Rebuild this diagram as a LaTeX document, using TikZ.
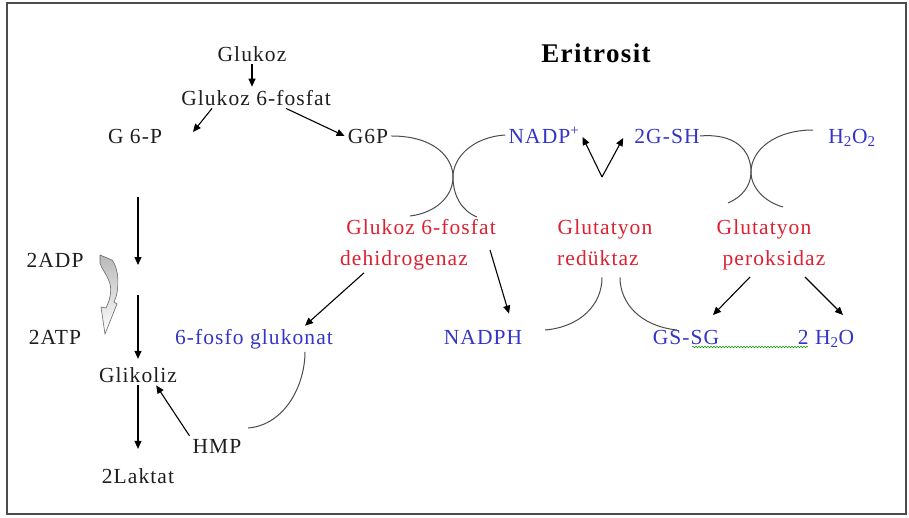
\documentclass[tikz,border=0pt]{standalone}
\usepackage{fontspec}
\setmainfont{Liberation Serif}[LetterSpace=5]
\usetikzlibrary{arrows.meta,decorations.pathmorphing}
\definecolor{enz}{RGB}{222,32,48}
\definecolor{met}{RGB}{52,52,200}
\definecolor{ink}{RGB}{30,30,30}

\begin{document}
\begin{tikzpicture}[x=1pt,y=-1pt,
  every node/.style={font=\fontsize{21.5}{26}\selectfont,anchor=base,inner sep=3pt,text=ink},
  enzyme/.style={text=enz}, metab/.style={text=met},
  title/.style={font=\fontsize{27}{32}\selectfont\bfseries,text=black},
  edge/.style={-{Triangle[length=8pt,width=7pt]},line width=1.1pt,black},
  couple/.style={line width=1pt,black!70},
  spell/.style={green!60!black,line width=0.5pt,decorate,decoration={snake,amplitude=0.8pt,segment length=3pt}}]
\useasboundingbox (0,0) rectangle (909,517);
\draw[line width=1.3pt,black!70] (7,3) rectangle (906,514);
\node (glukoz) at (252,61) {Glukoz}; \node (gsf) at (256,105) {Glukoz 6-fosfat};
\node (gsixp) at (135,143) {G 6-P}; \node (gsp) at (368,143) {G6P};
\node[title] (eri) at (596,62) {Eritrosit};
\node[metab] (nadp) at (544,143) {NADP\textsuperscript{+}};
\node[metab] (gsh) at (667,143) {2G-SH};
\node[metab] (perox) at (852,143) {H\textsubscript{2}O\textsubscript{2}};
\node[enzyme] (gpdA) at (421,234) {Glukoz 6-fosfat};
\node[enzyme] (gpdB) at (404,265) {dehidrogenaz};
\node[enzyme] (grA) at (605,234) {Glutatyon}; \node[enzyme] (grB) at (598,265) {redüktaz};
\node[enzyme] (gpxA) at (764,234) {Glutatyon}; \node[enzyme] (gpxB) at (774,265) {peroksidaz};
\node (adp) at (55,267) {2ADP}; \node (atp) at (55,344) {2ATP};
\node[metab] (pgluk) at (254,344) {6-fosfo glukonat};
\node[metab] (nadph) at (483,344) {NADPH};
\node[metab] (gssg) at (686,344) {GS-SG};
\node[metab] (water) at (826,344) {2 H\textsubscript{2}O};
\node (glikoliz) at (138,382) {Glikoliz}; \node (hmp) at (217,453) {HMP};
\node (laktat) at (138,483) {2Laktat};
\coordinate (gsixpin) at (193,132); \coordinate (glyA) at (138,197);
\coordinate (glyB) at (138,265); \coordinate (glyC) at (138,295);
\coordinate (vtip) at (602,177); \coordinate (npA) at (490,250);
\coordinate (hmpin) at (248,428); \coordinate (peroxout) at (813,130);
\coordinate (gpxL) at (750,277); \coordinate (gpxR) at (805,277);
\coordinate (gssgin) at (713,315); \coordinate (waterin) at (843,315);
\draw[edge] (glukoz.south) -- (glukoz.south |- gsf.north);
\draw[edge] ([xshift=-44pt]gsf.south) -- (gsixpin);
\draw[edge] ([xshift=30pt]gsf.south) -- (gsp.west);
\draw[edge] (glyA) -- (glyB); \draw[edge] (glyC) -- ([yshift=5pt]glikoliz.north);
\draw[edge] (glikoliz.south) -- ([yshift=16pt]laktat.north);
\draw[edge] (hmp.north west) -- ([xshift=-24pt]glikoliz.south east);
\shade[top color=gray!55,bottom color=white,draw=black!60,line width=0.6pt]
  (100,255) -- (112,260) .. controls (119,268) and (120,290) .. (114,302) -- (117,304)
  -- (105,334) -- (101,307) -- (106,308) .. controls (111,298) and (112,288) .. (109,281)
  .. controls (106,273) and (101,268) .. (100,263) -- cycle;
\draw[couple] (gsp.east) .. controls (435,136) and (453,158) .. (453,177)
  .. controls (453,197) and (435,213) .. (410,216);
\draw[couple] (nadp.west) .. controls (472,137) and (453,158) .. (453,177)
  .. controls (453,196) and (462,211) .. (477,217);
\draw[edge] ([xshift=27pt]gpdB.south west) -- ([xshift=51pt]pgluk.north);
\draw[edge] (npA) -- ([shift={(26pt,13pt)}]nadph.north);
\draw[couple] ([xshift=51pt]pgluk.south) .. controls (305,385) and (285,425) .. (hmpin);
\draw[edge] (vtip) -- ([yshift=-2pt]nadp.east);
\draw[edge] (vtip) -- ([xshift=-8pt,yshift=-2pt]gsh.west);
\draw[couple] ([xshift=-3pt]gsh.east) .. controls (735,133) and (751,150) .. (751,172)
  .. controls (751,186) and (742,197) .. (728,203);
\draw[couple] (peroxout) .. controls (775,130) and (751,150) .. (751,172)
  .. controls (751,188) and (765,202) .. (783,207);
\draw[couple] ([shift={(4pt,-9pt)}]grB.south) .. controls (602,305) and (580,327) .. (545,330);
\draw[couple] ([shift={(22pt,-9pt)}]grB.south) .. controls (620,303) and (640,326) .. (677,330);
\draw[edge] (gpxL) -- (gssgin); \draw[edge] (gpxR) -- (waterin);
\draw[spell] ([shift={(6pt,-3pt)}]gssg.base) -- ([shift={(-18pt,-3pt)}]water.base);
\end{tikzpicture}
\end{document}
